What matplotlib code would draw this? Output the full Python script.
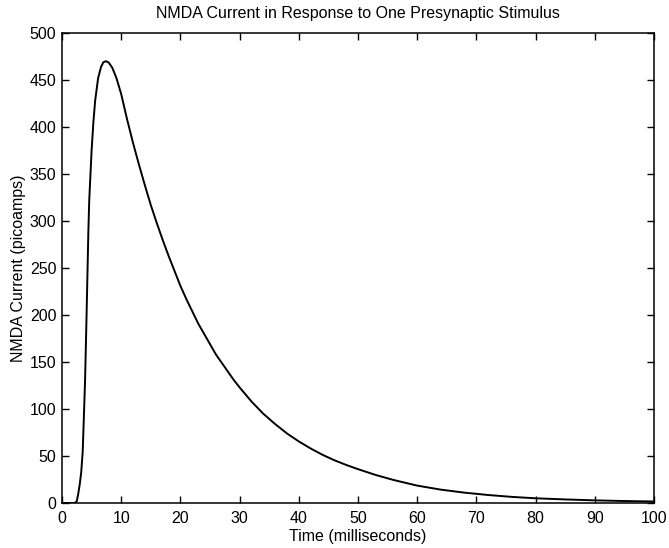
import matplotlib
matplotlib.use("Agg")
import matplotlib.pyplot as plt

# values (time in ms, current in pA)
time_ms = [0, 1, 2.2, 2.5, 2.75, 3.0, 3.25, 3.5, 3.75, 3.9, 4.15, 4.45, 4.6,
           5.0, 5.3, 5.6, 6.1, 6.6, 7.0, 7.43, 7.9, 8.5, 9.2, 10,
           11, 12, 13, 14, 15, 16, 17, 18, 19, 20, 21, 22, 23, 24, 25, 26,
           27, 28, 29, 30, 32, 34, 36, 38, 40, 42, 44, 46, 48, 50, 53, 56,
           60, 64, 68, 72, 76, 80, 85, 90, 95, 100]
current_pa = [0, 0, 0, 2, 10, 20, 33, 55, 102, 131, 200, 288, 322,
              375, 405, 428, 452, 464, 469, 470, 468.5, 463, 452, 435,
              408, 383, 360, 338, 317, 298, 280, 263, 247, 231, 217, 204,
              191, 180, 169, 158, 149, 140, 131, 123, 108, 95, 84, 74, 65.5,
              58, 51.3, 45.5, 40.5, 36, 29.8, 24.5, 18.5, 14.2, 11, 8.5, 6.5,
              5, 3.8, 2.8, 2.1, 1.6]

xticks = list(range(0, 101, 10))
yticks = list(range(0, 501, 50))

plt.rcParams['font.family'] = ['Liberation Sans', 'DejaVu Sans']

fig = plt.figure(figsize=(6.69, 5.48), dpi=100)
fig.patch.set_facecolor('white')
ax = fig.add_axes([62/669, 45/548, (654-62)/669, (503-33)/548])

ax.plot(time_ms, current_pa, color='black', lw=1.4)

ax.set_xlim(0, 100)
ax.set_ylim(0, 500)
ax.set_xticks(xticks)
ax.set_yticks(yticks)
ax.tick_params(direction='in', length=5, width=1, top=True, right=True,
               labelsize=11.5)
ax.tick_params(axis='x', pad=6)
ax.tick_params(axis='y', pad=4)
for s in ax.spines.values():
    s.set_linewidth(1.1)

ax.set_title('NMDA Current in Response to One Presynaptic Stimulus',
             fontsize=11.5, pad=11)
ax.set_xlabel('Time (milliseconds)', fontsize=11.5, labelpad=2)
ax.set_ylabel('NMDA Current (picoamps)', fontsize=11.5, labelpad=3)

fig.savefig('out.png', dpi=100)
